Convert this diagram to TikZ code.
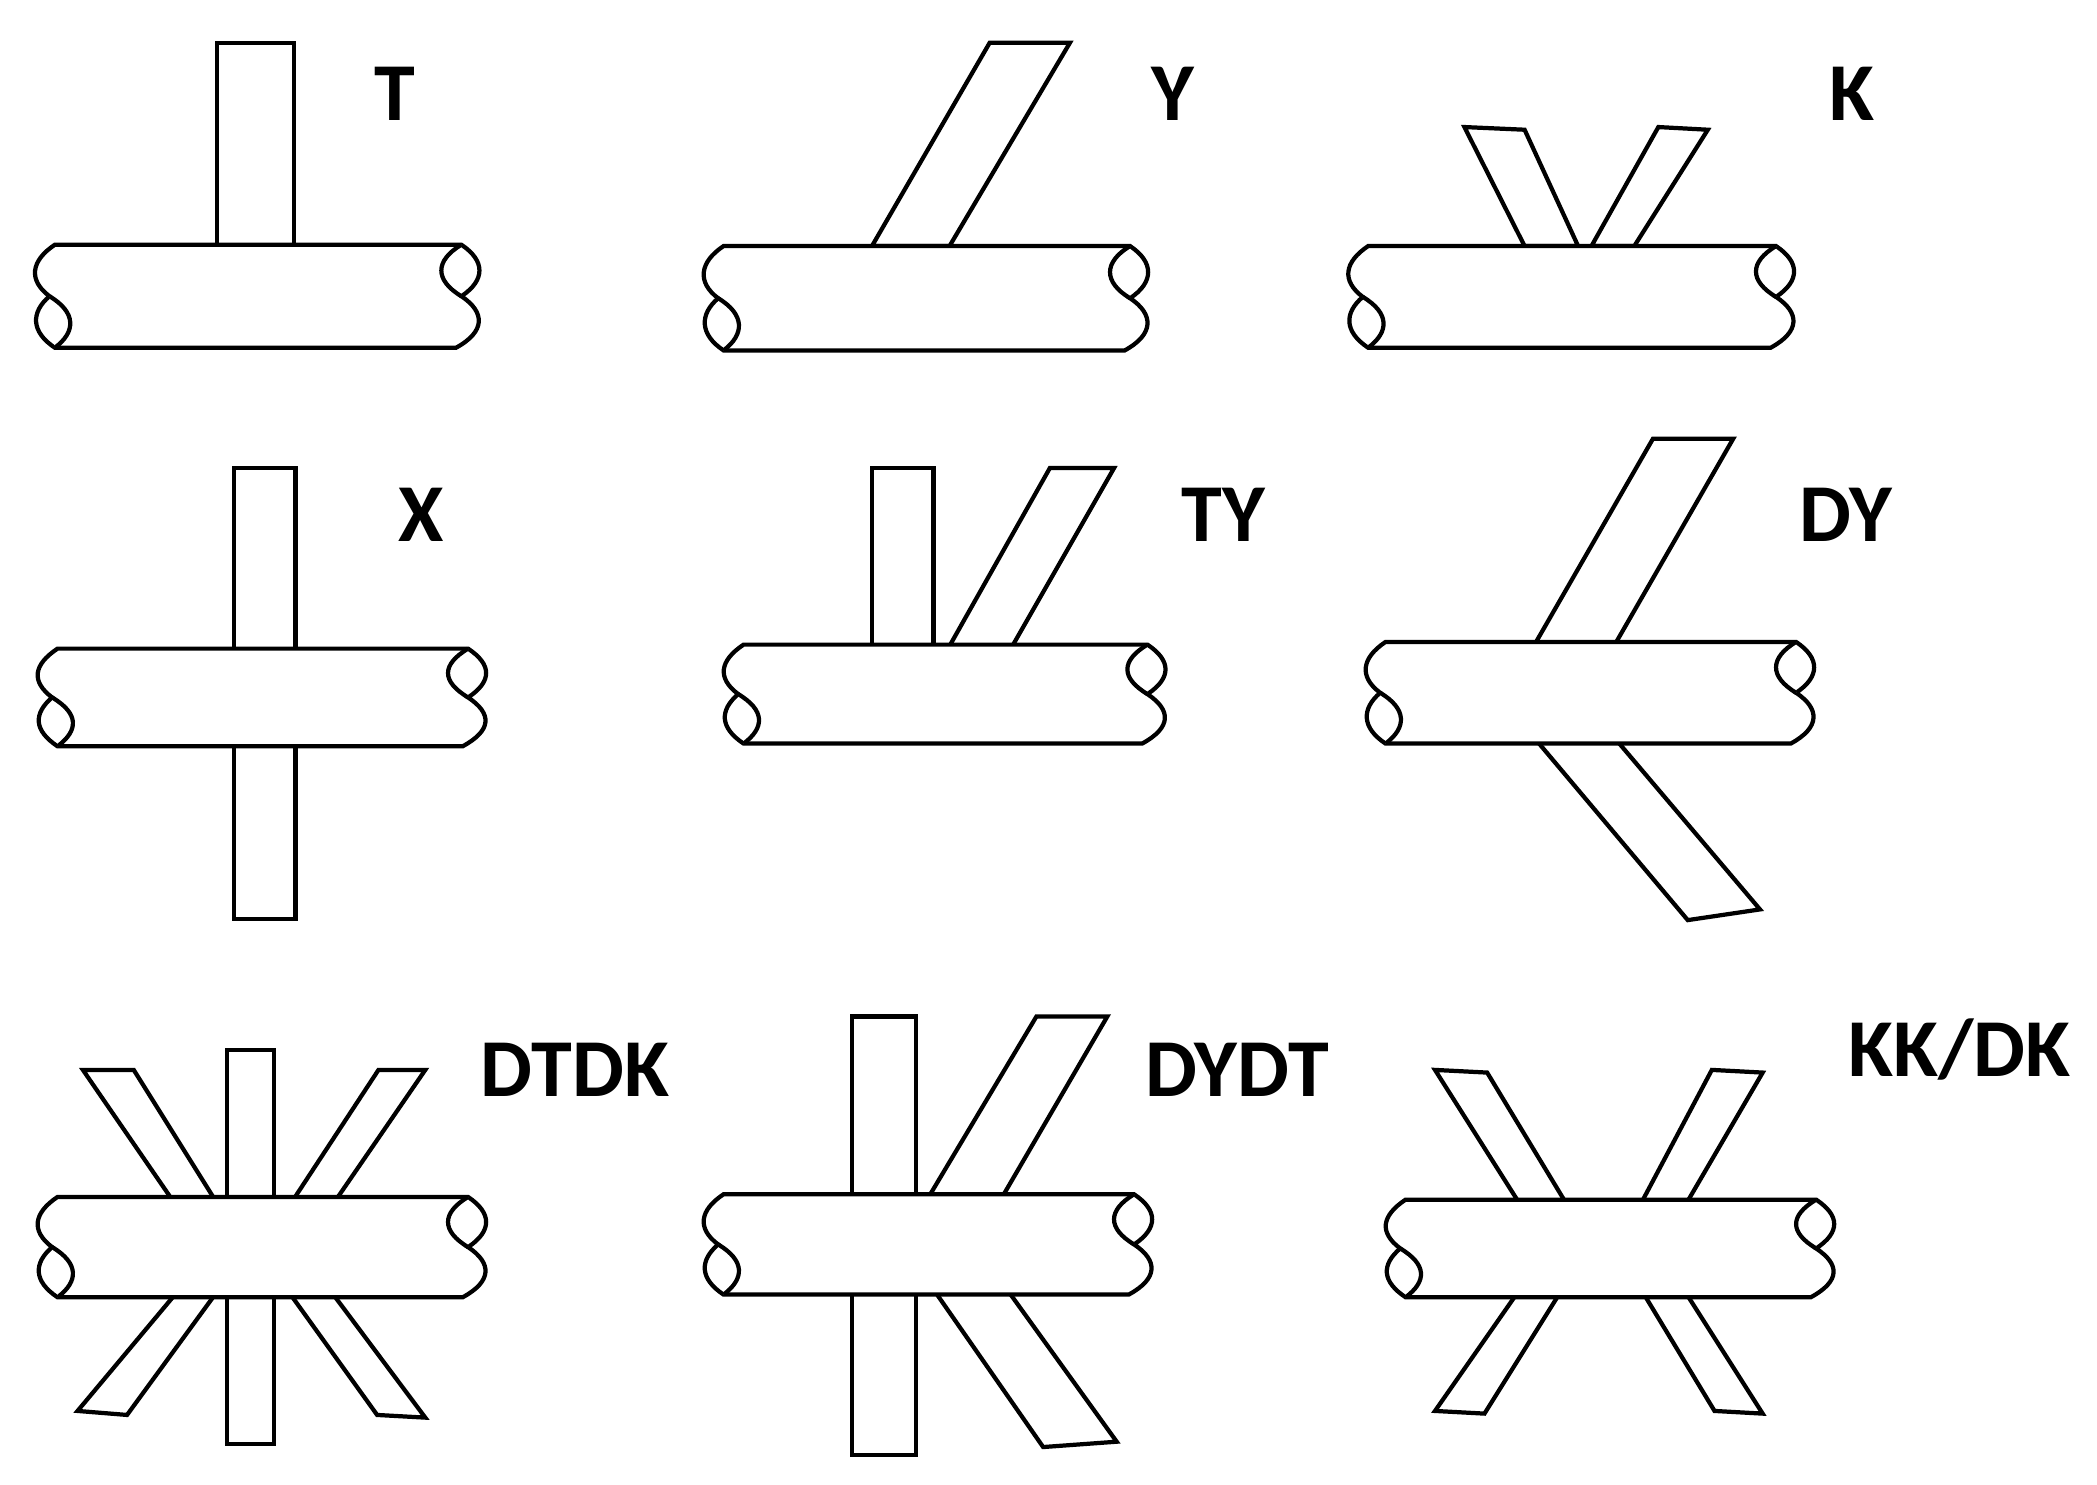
\documentclass[tikz,border=0pt]{standalone}
\usepackage{fontspec}
\setmainfont{Carlito}
\tikzset{
  brace/.style={draw=black, fill=white, line width=0.9pt, line join=miter},
  joint/.style={font=\fontsize{17.5}{20}\selectfont\bfseries, anchor=center}
}
% chord body: four corners
\newcommand{\chord}[4]{\filldraw[brace] #1 -- #2 -- #3 -- #4 -- cycle;}
% chord pipe: left x, right x, top y, bottom y
\newcommand{\tube}[4]{%
  \pgfmathsetmacro{\tm}{(#3+#4)/2}%
  \filldraw[brace] (#1+6,#3) -- (#2,#3)
    .. controls (#2+18,#3+12) and (#2+18,\tm-12) .. (#2,\tm)
    .. controls (#2+18,\tm+12) and (#2+18,#4-12) .. (#2-4,#4) -- (#1+6,#4)
    .. controls (#1-12,#4-12) and (#1-12,\tm+12) .. (#1+2,\tm)
    .. controls (#1-14,\tm-12) and (#1-12,#3+12) .. (#1+6,#3) -- cycle;
  \draw[brace] (#2,#3) .. controls (#2-20,#3+12) and (#2-20,\tm-12) .. (#2,\tm);
  \draw[brace] (#1+2,\tm) .. controls (#1+22,\tm+12) and (#1+22,#4-12) .. (#1+6,#4);
}
\begin{document}
\begin{tikzpicture}[x=0.1mm, y=-0.1mm]
\useasboundingbox (0,0) rectangle (1568,1110);
% T
\chord{(162,32)}{(220,32)}{(220,186)}{(162,186)}
\tube{35}{345}{183}{260}
\node[joint] (lblT) at (295,70) {T};
% Y
\chord{(740,32)}{(800,32)}{(710,184)}{(652,184)}
\tube{535}{845}{184}{262}
\node[joint] (lblY) at (877,70) {Y};
% K
\chord{(1095,95)}{(1140,97)}{(1180,184)}{(1140,184)}
\chord{(1240,95)}{(1277,97)}{(1222,184)}{(1190,184)}
\tube{1017}{1328}{184}{260}
\node[joint] (lblK) at (1385,70) {K};
% X
\chord{(175,350)}{(221,350)}{(221,687)}{(175,687)}
\tube{37}{350}{485}{558}
\node[joint] (lblX) at (315,385) {X};
% TY
\chord{(652,350)}{(698,350)}{(698,483)}{(652,483)}
\chord{(785,350)}{(833,350)}{(757,483)}{(710,483)}
\tube{550}{858}{482}{556}
\node[joint] (lblTY) at (915,385) {TY};
% DY
\chord{(1236,328)}{(1296,328)}{(1208,481)}{(1148,481)}
\chord{(1150,555)}{(1210,555)}{(1316,680)}{(1262,688)}
\tube{1030}{1343}{480}{556}
\node[joint] (lblDY) at (1380,385) {DY};
% DTDK
\chord{(170,785)}{(205,785)}{(205,1080)}{(170,1080)}
\chord{(62,800)}{(100,800)}{(160,896)}{(128,896)}
\chord{(283,800)}{(318,800)}{(252,896)}{(220,896)}
\chord{(130,969)}{(160,969)}{(95,1058)}{(58,1055)}
\chord{(218,969)}{(250,969)}{(318,1060)}{(282,1058)}
\tube{37}{350}{895}{970}
\node[joint] (lblDTDK) at (430,800) {DTDK};
% DYDT
\chord{(637,760)}{(685,760)}{(685,1088)}{(637,1088)}
\chord{(775,760)}{(828,760)}{(750,894)}{(695,894)}
\chord{(700,967)}{(755,967)}{(835,1078)}{(780,1082)}
\tube{535}{848}{893}{968}
\node[joint] (lblDYDT) at (925,800) {DYDT};
% KK/DK
\chord{(1073,800)}{(1112,802)}{(1170,898)}{(1135,898)}
\chord{(1280,800)}{(1318,802)}{(1262,898)}{(1228,898)}
\chord{(1133,969)}{(1165,969)}{(1110,1057)}{(1073,1055)}
\chord{(1230,969)}{(1262,969)}{(1318,1057)}{(1282,1055)}
\tube{1045}{1358}{897}{970}
\node[joint] (lblKKDK) at (1465,785) {KK/DK};
\end{tikzpicture}
\end{document}
